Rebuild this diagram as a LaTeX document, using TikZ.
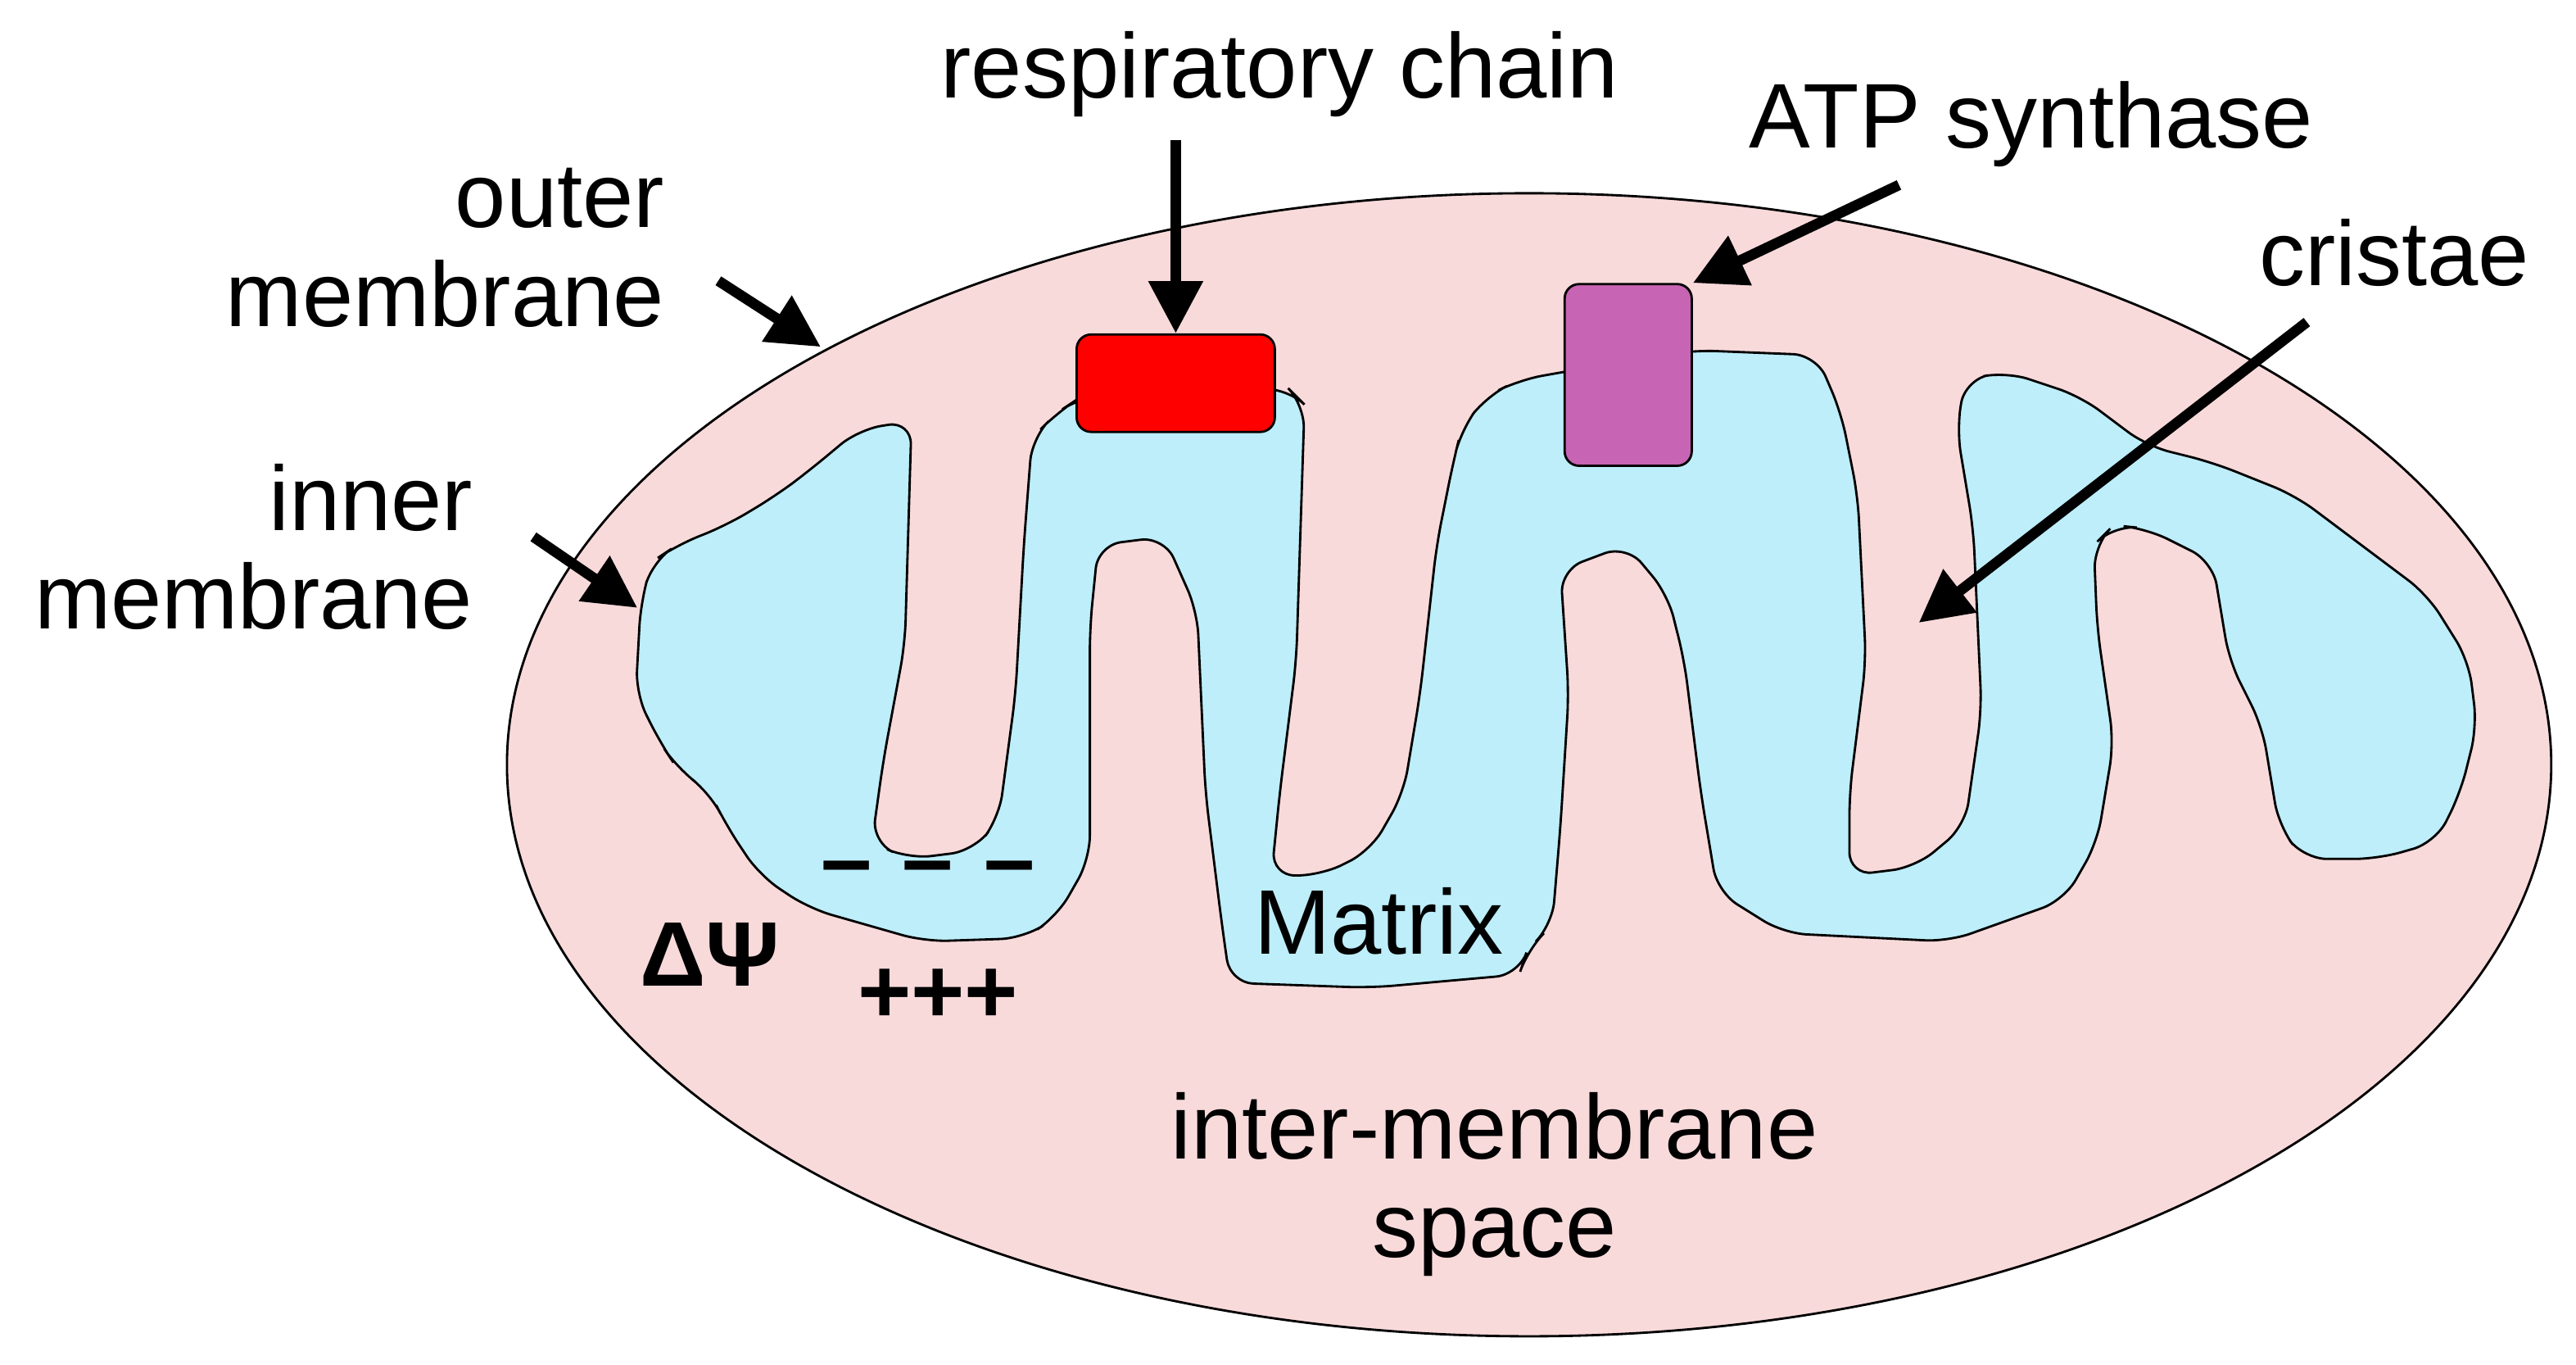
\documentclass[tikz,border=0pt]{standalone}
\usepackage{fontspec}
\setmainfont{Liberation Sans}
\usetikzlibrary{arrows.meta}
\definecolor{imspace}{RGB}{249,218,219}
\definecolor{matrixblue}{RGB}{189,238,250}
\definecolor{atpviolet}{RGB}{200,100,180}
\tikzset{lbl/.style={font=\fontsize{15.8}{17}\selectfont, align=center, inner sep=0pt},
         pointer/.style={line width=1.8pt, -{Triangle[length=9pt,width=9pt]}},
         protein/.style={draw, thin, rounded corners=2.5pt}}
\begin{document}
\begin{tikzpicture}[x=0.1mm, y=-0.1mm]
  \useasboundingbox (0,0) rectangle (1560,826);
  \draw[fill=imspace, thin] (926,463) ellipse [x radius=619, y radius=-346];

  \draw[fill=matrixblue, thin, rounded corners=4pt] (388,365) -- (395,340) -- (410,330) -- (440,318) -- (470,300) -- (490,285) -- (520,260) -- (552,255)
    -- (548,390) -- (535,460) -- (528,510) -- (550,520) -- (590,515) -- (605,495) -- (615,420) -- (620,330) -- (625,265) -- (640,250) -- (655,240)
    -- (780,235) -- (790,245) -- (785,400) -- (775,480) -- (770,530) -- (800,530) -- (830,515) -- (850,480) -- (860,420) -- (870,330) -- (880,280)
    -- (885,260) -- (900,240) -- (920,230) -- (948,225) -- (1025,212) -- (1100,215) -- (1115,250) -- (1125,300) -- (1130,400) -- (1120,480)
    -- (1120,530) -- (1160,525) -- (1190,500) -- (1200,430) -- (1195,320) -- (1185,260) -- (1190,230) -- (1215,225) -- (1260,240) -- (1300,270)
    -- (1340,280) -- (1390,300) -- (1430,330) -- (1470,360) -- (1495,400) -- (1500,440) -- (1490,480) -- (1475,510) -- (1440,520) -- (1395,520)
    -- (1380,500) -- (1370,440) -- (1350,400) -- (1340,340) -- (1300,320) -- (1280,318) -- (1268,330) -- (1270,380) -- (1280,450) -- (1270,510)
    -- (1250,545) -- (1180,570) -- (1080,565) -- (1040,540) -- (1030,480) -- (1020,400) -- (1010,360) -- (985,330) -- (945,345) -- (950,420)
    -- (945,500) -- (940,560) -- (925,575) -- (920,590) -- (830,598) -- (745,595) -- (740,560) -- (730,480) -- (725,370) -- (705,325) -- (665,330)
    -- (660,380) -- (660,520) -- (640,555) -- (620,568) -- (560,570) -- (490,550) -- (460,530) -- (440,500) -- (430,480) -- (410,465) -- (400,450)
    -- (385,420) -- cycle;

  \node[protein, fill=red, minimum width=12mm, minimum height=5.9mm] (resp) at (712,232) {};
  \node[protein, fill=atpviolet, minimum width=7.7mm, minimum height=11mm] (atp) at (986,227) {};

  \node[lbl] (resplbl) at (775,45) {respiratory chain};
  \node[lbl] (atplbl) at (1230,75) {ATP synthase};
  \node[lbl] (crlbl) at (1450,153) {cristae};
  \node[lbl, align=right, anchor=east] (outlbl) at (403,150) {outer\\membrane};
  \node[lbl, align=right, anchor=east] (inlbl) at (287,331) {inner\\membrane};
  \node[lbl, font=\fontsize{15.8}{17}\selectfont\bfseries] (dpsi) at (430,578) {ΔΨ};
  \node[lbl, font=\fontsize{15.8}{17}\selectfont\bfseries] (minus) at (562,530) {–\,\,–\,\,–};
  \node[lbl, font=\fontsize{15.8}{17}\selectfont\bfseries] (plus) at (568,603) {+++};
  \node[lbl] (matlbl) at (835,558) {Matrix};
  \node[lbl] (imslbl) at (905,717) {inter-membrane\\space};

  \coordinate (outtip) at (497,210);
  \coordinate (intip) at (386,368);
  \coordinate (crtip) at (1162,377);
  \draw[pointer] (712,85) -- (resp.north);
  \draw[pointer] (1150,112) -- (atp.north east);
  \draw[pointer] (1397,195) -- (crtip);
  \draw[pointer] (435,170) -- (outtip);
  \draw[pointer] (323,325) -- (intip);
\end{tikzpicture}
\end{document}
